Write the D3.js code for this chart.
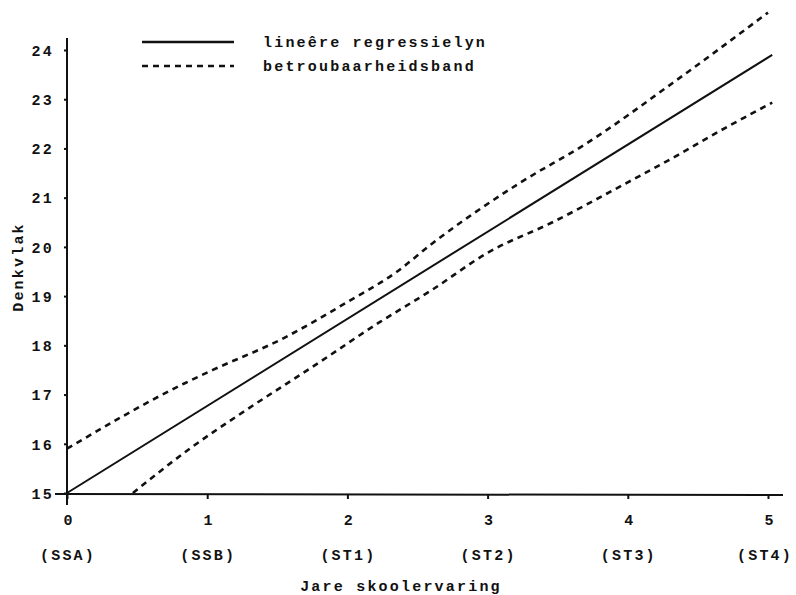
<!DOCTYPE html>
<html>
<head>
  <meta charset="utf-8">
  <script src="https://d3js.org/d3.v7.min.js"></script>
  <style>
    body { margin: 0px; background: #fff; }
    text {
      font-family: "Liberation Mono", "DejaVu Sans Mono", monospace;
      font-weight: bold;
      fill: #111;
    }
    .tick-label, .legend-label, .axis-label, .sub-label {
      font-size: 15px;
      letter-spacing: 2.2px;
    }
  </style>
</head>
<body>
  <svg width="796" height="595"></svg>
  <script>
    // values
    const xTicks = [0, 1, 2, 3, 4, 5];
    const xSubLabels = ['(SSA)', '(SSB)', '(ST1)', '(ST2)', '(ST3)', '(ST4)'];
    const yTicks = [15, 16, 17, 18, 19, 20, 21, 22, 23, 24];

    const regression = [[0, 15.0], [5.03, 23.9]];
    const upperBand = [[0, 15.9], [0.84, 17.23], [1.04, 17.5], [1.52, 18.11], [2.0, 18.88],
      [2.35, 19.49], [2.61, 20.08], [3.23, 21.3], [3.71, 22.11], [4.32, 23.33], [5.0, 24.76]];
    const lowerBand = [[0.47, 15.0], [0.88, 15.91], [1.28, 16.69], [1.75, 17.56], [2.23, 18.47],
      [2.6, 19.12], [3.0, 19.88], [3.47, 20.51], [3.94, 21.22], [4.36, 21.87], [4.71, 22.44], [5.03, 22.93]];

    const legendItems = [
      { label: 'lineêre regressielyn', dash: null },
      { label: 'betroubaarheidsband', dash: '6,5' }
    ];

    const svg = d3.select('svg');

    const xScale = d3.scaleLinear().domain([0, 5]).range([67, 768]);
    const yScale = d3.scaleLinear().domain([15, 24]).range([493, 50]);

    const line = d3.line()
      .x(d => xScale(d[0]))
      .y(d => yScale(d[1]))
      .curve(d3.curveMonotoneX);

    // axes lines
    svg.append('line')
      .attr('x1', xScale(0)).attr('x2', xScale(0))
      .attr('y1', 38).attr('y2', 505)
      .attr('stroke', '#111').attr('stroke-width', 2);
    svg.append('line')
      .attr('x1', 55).attr('x2', 783)
      .attr('y1', yScale(15) + 1).attr('y2', yScale(15) + 2)
      .attr('stroke', '#111').attr('stroke-width', 2);

    const yAxis = d3.axisLeft(yScale)
      .tickValues(yTicks)
      .tickSize(3)
      .tickPadding(10)
      .tickFormat(d3.format('d'));
    const yAxisG = svg.append('g')
      .attr('transform', `translate(${xScale(0)},0)`)
      .call(yAxis);
    yAxisG.select('.domain').remove();
    yAxisG.selectAll('.tick line').attr('stroke', '#111').attr('stroke-width', 2);
    yAxisG.selectAll('.tick text')
      .attr('class', 'tick-label')
      .attr('font-family', null).attr('font-size', null)
      .attr('dy', '0.35em');

    const xAxis = d3.axisBottom(xScale)
      .tickValues(xTicks)
      .tickSize(4)
      .tickPadding(15)
      .tickFormat(d3.format('d'));
    const xAxisG = svg.append('g')
      .attr('transform', `translate(0,${yScale(15) + 2})`)
      .call(xAxis);
    xAxisG.select('.domain').remove();
    xAxisG.selectAll('.tick line').attr('stroke', '#111').attr('stroke-width', 2);
    xAxisG.selectAll('.tick text')
      .attr('class', 'tick-label')
      .attr('font-family', null).attr('font-size', null)
      .attr('dx', '0.1em');

    svg.selectAll('.sub-label').data(xTicks)
      .enter().append('text')
      .attr('class', 'sub-label')
      .attr('x', d => Math.min(xScale(d) + 1, 765))
      .attr('y', 560)
      .attr('text-anchor', 'middle')
      .text((d, i) => xSubLabels[i]);

    svg.append('text')
      .attr('class', 'axis-label')
      .attr('x', 401)
      .attr('y', 591)
      .attr('text-anchor', 'middle')
      .text('Jare skoolervaring');

    svg.append('text')
      .attr('class', 'axis-label')
      .attr('transform', 'translate(23,267) rotate(-90)')
      .attr('text-anchor', 'middle')
      .text('Denkvlak');

    // lines
    svg.append('path').datum(regression)
      .attr('d', line)
      .attr('fill', 'none').attr('stroke', '#111').attr('stroke-width', 2);
    [upperBand, lowerBand].forEach(band => {
      svg.append('path').datum(band)
        .attr('d', line)
        .attr('fill', 'none').attr('stroke', '#111')
        .attr('stroke-width', 2.6)
        .attr('stroke-dasharray', '6,5');
    });

    // legend
    const legendG = svg.append('g').attr('transform', 'translate(142,42)');
    const legendRow = legendG.selectAll('g').data(legendItems)
      .enter().append('g')
      .attr('transform', (d, i) => `translate(0,${i * 24})`);
    legendRow.append('line')
      .attr('x1', 0).attr('x2', 92)
      .attr('stroke', '#111')
      .attr('stroke-width', 2.4)
      .attr('stroke-dasharray', d => d.dash);
    legendRow.append('text')
      .attr('class', 'legend-label')
      .attr('x', 121)
      .attr('dy', '0.3em')
      .text(d => d.label);
  </script>
</body>
</html>
